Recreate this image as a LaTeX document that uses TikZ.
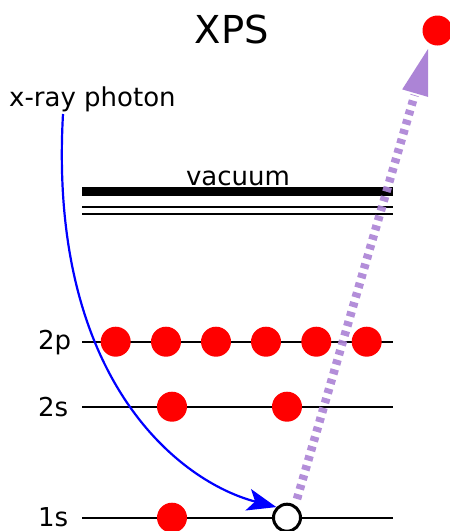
\documentclass[tikz,border=0pt]{standalone}
\usepackage{fontspec}
\setmainfont{DejaVu Sans}
\usetikzlibrary{arrows.meta,calc}
\definecolor{elred}{RGB}{255,0,0}
\definecolor{photonblue}{RGB}{0,0,255}
\definecolor{emitpurple}{RGB}{172,132,214}
\begin{document}
\begin{tikzpicture}[x=1pt,y=-1pt,
  electron/.style={circle,fill=elred,minimum size=30pt,inner sep=0pt},
  hole/.style={circle,draw=black,line width=3pt,fill=white,minimum size=27pt,inner sep=0pt},
  level/.style={line width=1.8pt,black},
  vaclevel/.style={line width=8.5pt,black},
  lbl/.style={inner sep=0pt,font=\fontsize{26}{30}\selectfont},
  titlelbl/.style={inner sep=0pt,font=\fontsize{38.5}{44}\selectfont},
  photon/.style={photonblue,line width=2.2pt,-{Stealth[length=29pt,width=22pt,inset=7pt]}},
  emission/.style={draw=emitpurple,draw opacity=0.92,line width=8.5pt,line cap=butt,
     dash pattern=on 5pt off 5pt},
  emithead/.style={fill=emitpurple},
  ]
\useasboundingbox (0,0) rectangle (450,531);

% title and labels
\node[titlelbl,anchor=base] (title) at (232,43) {XPS};
\node[lbl,anchor=base west] (xray) at (9,106) {x-ray photon};
\node[lbl,anchor=base] (vac) at (238,185) {vacuum};
\node[lbl,anchor=base west] (l2p) at (38,349) {2p};
\node[lbl,anchor=base west] (l2s) at (38,416) {2s};
\node[lbl,anchor=base west] (l1s) at (38,526) {1s};

% level end points
\coordinate (vacL) at (82,191.7);  \coordinate (vacR) at (393,191.7);
\coordinate (t1L) at (82,206.7);   \coordinate (t1R) at (393,206.7);
\coordinate (t2L) at (82,214.3);   \coordinate (t2R) at (393,214.3);
\coordinate (pL) at (82,341.7);    \coordinate (pR) at (393,341.7);
\coordinate (sL) at (82,406.7);    \coordinate (sR) at (393,406.7);
\coordinate (oL) at (82,517.7);    \coordinate (oR) at (393,517.7);

\draw[vaclevel] (vacL) -- (vacR);
\draw[level] (t1L) -- (t1R);
\draw[level] (t2L) -- (t2R);
\draw[level] (pL) -- (pR);
\draw[level] (sL) -- (sR);
\draw[level] (oL) -- (oR);

% electrons
\node[electron] (p1) at (115.7,341.7) {};
\node[electron] (p2) at (166,341.7) {};
\node[electron] (p3) at (216,341.7) {};
\node[electron] (p4) at (266,341.7) {};
\node[electron] (p5) at (316.3,341.7) {};
\node[electron] (p6) at (366.7,341.7) {};
\node[electron] (s1) at (172,406.7) {};
\node[electron] (s2) at (287,406.7) {};
\node[electron] (o1) at (172,517.7) {};
\node[hole] (hole) at (287,517.7) {};
\node[electron] (free) at (437.5,30.5) {};

% photon
\coordinate (photonstart) at (63,114);
\draw[photon] (photonstart) .. controls (48,380) and (180,482) .. (hole.north west);

% emitted electron path
\coordinate (emitstart) at (297,499);
\coordinate (emitend) at (428,49);
\coordinate (headbase) at ($(emitend)!46pt!(emitstart)$);
\path[emission] (emitstart) -- ($(headbase)!-2pt!(emitend)$);
\fill[emithead] (emitend) -- ($(headbase)!13.5pt!90:(emitend)$) -- ($(headbase)!13.5pt!-90:(emitend)$) -- cycle;
\end{tikzpicture}
\end{document}
